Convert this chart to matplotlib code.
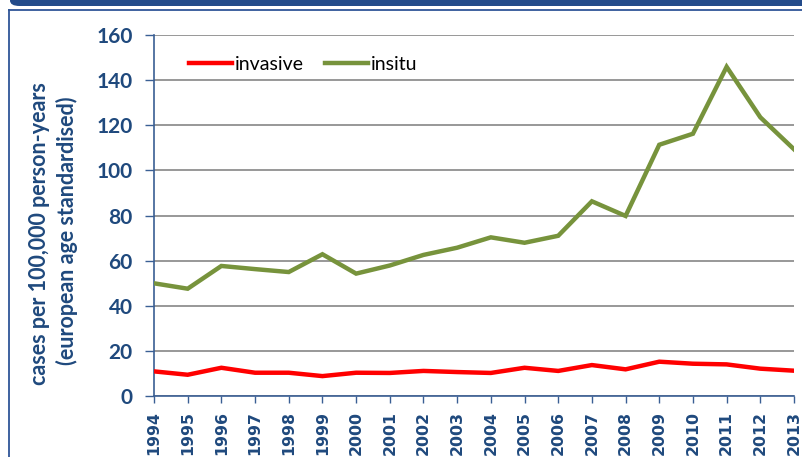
import matplotlib
matplotlib.use("Agg")
import matplotlib.pyplot as plt
from matplotlib.patches import FancyBboxPatch
from matplotlib.lines import Line2D

years = list(range(1994, 2014))
invasive = [10.8, 9.3, 12.4, 10.2, 10.2, 8.7, 10.2, 10.1, 11.0, 10.5,
            10.1, 12.4, 11.0, 13.6, 11.7, 15.1, 14.2, 13.9, 12.0, 11.1]
insitu = [49.9, 47.5, 57.6, 56.2, 54.9, 62.8, 54.2, 57.8, 62.5, 65.7,
          70.3, 67.9, 71.0, 86.3, 79.8, 111.4, 116.3, 146.0, 123.6, 109.4]
y_ticks = [0, 20, 40, 60, 80, 100, 120, 140, 160]
series_names = ["invasive", "insitu"]
ylabel_lines = ["cases per 100,000 person-years", "(european age standardised)"]

W, H = 803, 457
fig = plt.figure(figsize=(W / 100, H / 100), dpi=100)
fig.patch.set_facecolor("white")

text_blue = "#1F497D"
axis_blue = "#3A5F94"

# slide decoration: top band and frame
band = FancyBboxPatch((10 / W, 1 - 6 / H), (W + 40) / W, 20 / H,
                      boxstyle="round,pad=0,rounding_size=0.012",
                      transform=fig.transFigure, facecolor="#234B8A",
                      edgecolor="none", zorder=0)
fig.patches.append(band)
fig.add_artist(Line2D([8.5 / W, 8.5 / W], [0, 1 - 10 / H], transform=fig.transFigure,
                      color="#2F5597", lw=1.3))
fig.add_artist(Line2D([8.5 / W, 1], [1 - 10 / H, 1 - 10 / H], transform=fig.transFigure,
                      color="#2F5597", lw=1.3))

ax = fig.add_axes([154 / W, (H - 395.7) / H, (794 - 154) / W, (395.7 - 35.3) / H])
ax.plot(years, invasive, color="#FF0000", lw=3.2, label=series_names[0], zorder=3,
        solid_joinstyle="miter")
ax.plot(years, insitu, color="#77933C", lw=3.2, label=series_names[1], zorder=3,
        solid_joinstyle="miter")

ax.set_xlim(years[0], years[-1])
ax.set_ylim(0, 160)
ax.set_yticks(y_ticks)
ax.set_xticks(years)
ax.set_xticklabels([str(y) for y in years], rotation=90, fontfamily="DejaVu Sans",
                   fontweight="bold", fontsize=11.3, color=text_blue)
ax.set_yticklabels([str(v) for v in y_ticks], fontfamily="Lato", fontweight="bold",
                   fontsize=15, color=text_blue)

ax.grid(axis="y", color="#989898", lw=1.4, zorder=1)
ax.set_axisbelow(True)
for s in ["top", "right"]:
    ax.spines[s].set_visible(False)
for s in ["left", "bottom"]:
    ax.spines[s].set_color(axis_blue)
    ax.spines[s].set_linewidth(1.2)
ax.tick_params(axis="both", color=axis_blue, width=1.0, direction="out")
ax.tick_params(axis="y", length=6.5, pad=9)
ax.tick_params(axis="x", length=5, pad=6)

fig.text(40 / W, 1 - 234 / H, ylabel_lines[0], rotation=90, ha="center", va="center",
         fontfamily="Lato", fontweight="bold", fontsize=15.5, color=text_blue)
fig.text(67 / W, 1 - 231 / H, ylabel_lines[1], rotation=90, ha="center", va="center",
         fontfamily="Lato", fontweight="bold", fontsize=15.5, color=text_blue)

leg = ax.legend(loc="upper left", bbox_to_anchor=(0.03, 0.985), ncol=2, frameon=False,
                prop={"family": "Lato", "size": 14}, handlelength=2.2,
                handletextpad=0.15, columnspacing=1.1, borderaxespad=0.4)
for t in leg.get_texts():
    t.set_color("#000000")

fig.savefig("out.png", dpi=100)
